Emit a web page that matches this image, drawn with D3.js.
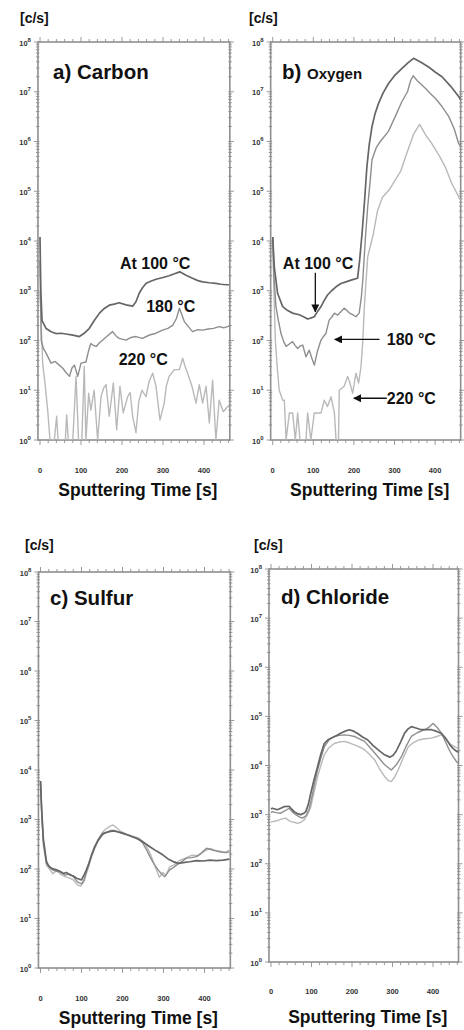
<!DOCTYPE html>
<html>
<head>
<meta charset="utf-8">
<script src="https://cdn.jsdelivr.net/npm/d3@7"></script>
<style>
body{margin:0;background:#fff;}
svg{display:block;font-family:"Liberation Sans",Arial,sans-serif;}
</style>
</head>
<body>
<script>
//wrap everything in a self-executing anonymous function
(function(){

//series data: [sputtering time (s), intensity (c/s)]
var carbon100 = [[0,12000],[2,1000],[5,250],[15,174],[27,150],[39,138],[52,140],[63,135],[80,128],[96,120],[108,140],[120,174],[132,250],[145,355],[157,440],[169,513],[181,540],[193,575],[210,520],[226,490],[234,600],[242,890],[250,1150],[259,1410],[270,1550],[283,1700],[300,1850],[315,2000],[328,2200],[341,2400],[356,2050],[372,1780],[385,1600],[397,1510],[413,1450],[429,1410],[441,1350],[454,1320],[461,1320]];
var carbon180 = [[0,4000],[3,100],[8,70],[15,55],[27,35],[37,38],[47,32],[55,28],[63,23],[72,19],[78,28],[84,32],[92,19],[100,35],[112,37],[118,60],[124,87],[130,80],[137,76],[145,90],[153,102],[165,125],[177,151],[185,125],[193,110],[210,102],[222,115],[234,120],[250,110],[267,129],[283,140],[299,162],[312,175],[324,204],[333,280],[340,447],[346,330],[352,240],[362,190],[372,151],[385,165],[397,162],[410,170],[423,175],[437,190],[448,180],[461,195]];
var carbon220 = [[0,1000],[6.5,35],[13,12],[18.7,4],[24.4,1],[35,1],[40.6,3],[44,1],[61.8,1],[65,3.2],[69,1],[80,1],[87.8,19],[94,1],[102,1],[108,30],[112,1],[118.7,8.7],[124,4],[132,10],[140.6,1],[148.8,7.4],[155,11],[161,13],[169,3],[178.9,14],[187,1.6],[195,12],[203,3.5],[213.8,7.4],[220,9],[226,3],[234,1.4],[241,6],[248.8,10],[258.5,7.4],[266,15],[274.8,22],[283,12],[292.7,2.5],[303,5.5],[308,12],[315,19],[327.6,26],[340,26],[348,44],[354,30],[360,22],[370.7,12],[380.5,5.5],[388.6,13],[396.7,5.5],[405,12],[413,2.2],[421,16],[429,1],[437,6.3],[447,3.7],[457.7,4.7],[461,4.7]];

var oxygen100 = [[0,12000],[4,3000],[12,890],[24.6,480],[37,400],[49,355],[65.6,330],[76,300],[86,270],[95,285],[102.5,300],[110,380],[119,480],[127,640],[135,820],[145,1000],[156,1200],[168,1400],[180.5,1510],[195,1650],[209,1780],[214,4000],[220,14000],[226,60000],[232,310000],[238,900000],[244.6,2.0e6],[252,3.6e6],[261,5.9e6],[272,9.5e6],[285.7,1.48e7],[300,2.1e7],[318.5,2.95e7],[333,3.8e7],[347,4.7e7],[365,3.9e7],[384,3.15e7],[400,2.5e7],[417,2.0e7],[438,1.3e7],[458,8.0e6],[463,7.0e6]];
var oxygen180 = [[0,12000],[3,2000],[8,480],[14,250],[20.5,138],[27,95],[33,76],[41,85],[49,95],[55,80],[61.5,69],[68,78],[74,81],[82,47],[90,64],[96,45],[102.5,32],[110,60],[119,102],[125,120],[131,138],[139,257],[146,300],[152,355],[160,325],[168,380],[176,447],[183,400],[189,355],[197,330],[205,300],[213,355],[218,700],[222,1660],[228,10500],[234,49000],[240,160000],[244.6,430000],[255,750000],[265,1.0e6],[285,1.6e6],[302,3.2e6],[318,6.3e6],[332,1.0e7],[340,1.7e7],[346,2.1e7],[358,1.6e7],[376,1.17e7],[390,8.9e6],[400.5,7.4e6],[415,5.3e6],[433.5,3.2e6],[447,1.8e6],[458,9.1e5],[463,8.0e5]];
var oxygen220 = [[0,12000],[3,1000],[6.5,102],[11,30],[16,10],[24.6,6.3],[28.6,6.3],[33,1],[41,3.5],[49,3.5],[55.7,1],[61.5,3.5],[67.2,1],[82,1],[86,3.5],[94,1],[102.5,3.5],[119,3.5],[127,6.3],[135,4.7],[143.6,7.4],[152,3.5],[156,1],[162,1],[164,10],[176,12],[184.6,19],[190,14],[197,8.7],[205,22],[211.7,14],[217.5,30],[222,100],[225.7,480],[234,4800],[248,14000],[258,40000],[270,75000],[287,107000],[302,170000],[315,250000],[327,490000],[347,1.4e6],[362,2.2e6],[378,1.3e6],[392,9.1e5],[410,5.2e5],[425,3.1e5],[440,1.5e5],[458,7.8e4],[463,6.5e4]];

var sulfur100 = [[0,6000],[3,1500],[7,400],[14.6,141],[20,115],[27,103],[39,96],[47,90],[55,81],[63,85],[71.5,76],[80,72],[88,65],[95,62],[100,60],[106,75],[112,96],[118,130],[124.4,191],[132,280],[140.7,386],[147,460],[153,525],[165,560],[177,590],[190,560],[201.6,525],[218,470],[234,417],[250,350],[266.7,282],[283,230],[299,191],[311,160],[323.6,141],[336,130],[348,135],[364,140],[380.5,148],[397,145],[413,151],[429,148],[445.5,151],[461,158]];
var sulfur180 = [[0,6000],[3,1400],[7,350],[14.6,130],[22,110],[30,95],[39,90],[50,88],[60,75],[70,80],[80,70],[90,55],[100,50],[106,60],[112,90],[118,125],[124,180],[132,270],[140,360],[150,480],[160,550],[172,600],[180,600],[195,540],[210,500],[225,440],[240,400],[250,330],[258,250],[266.7,178],[276,130],[286.8,96],[295,80],[303,70],[315,96],[323,105],[331.7,120],[344,140],[356,166],[368,170],[380.5,178],[392,210],[405,263],[417,245],[429.3,229],[441,220],[453.7,214],[461,225]];
var sulfur220 = [[0,6000],[3,1200],[7,300],[14.6,120],[22,100],[30,80],[39,92],[50,78],[60,70],[70,66],[80,60],[90,48],[98,45],[106,55],[112,80],[118,115],[124,170],[132,260],[140,380],[150,540],[160,650],[168,720],[176,776],[184,700],[195,580],[210,500],[225,460],[240,420],[255,330],[268,200],[280,110],[290,68],[298,85],[306,75],[315,110],[325,120],[340,150],[356,170],[370,190],[385,185],[400,230],[413,260],[425,240],[437,230],[449,215],[461,240]];

var chloride100 = [[0,1300],[3.3,1350],[15.7,1260],[24,1350],[32,1450],[44.7,1480],[57,1150],[65,1050],[73.6,1000],[80,1050],[86,1150],[92,1600],[98.4,2750],[106,5000],[115,9500],[123,17000],[131.5,28000],[140,33000],[148,36000],[160,40000],[173,45700],[183,50000],[193.6,53500],[204,50000],[214,44700],[226,38000],[239,33000],[251,26000],[264,21000],[278,17000],[293,14800],[301,16000],[309,19500],[320,30000],[330,45700],[338,55000],[346.5,62000],[358,58000],[371,53500],[384,54000],[396,53500],[408,50000],[421,44700],[431,36000],[441.7,26300],[450,22000],[458,19500],[463,18500]];
var chloride180 = [[0,1100],[3.3,1150],[12,1100],[24,1070],[35,1200],[44.7,1350],[52,1150],[61,1000],[70,900],[77.8,850],[86,950],[94,1260],[102,2500],[108,4500],[115,8100],[123,14000],[131.5,24000],[143,33000],[156,39000],[168,41000],[181,42000],[193,41000],[206,39000],[218,35000],[231,31000],[247,22000],[264,15100],[280,10500],[297,8100],[310,10500],[322,15100],[334,25000],[346.5,39000],[362,47000],[380,53500],[392,62000],[400,72000],[410,60000],[421,45700],[431,30000],[441.7,19500],[450,15000],[458,12000],[463,11000]];
var chloride220 = [[0,700],[3.3,720],[12,740],[20,780],[28,820],[36.4,850],[42,780],[49,720],[57,700],[65.5,665],[74,700],[82,780],[90,1000],[98.4,1450],[106,2800],[115,5900],[123,10000],[131.5,16500],[143,23000],[156,28000],[168,30000],[181,31000],[193,29000],[206,26300],[218,24000],[231,21000],[243,17000],[256,13000],[268,8500],[281,5900],[289,5000],[297,4700],[305,5800],[314,8100],[326,14000],[339,24000],[351,29000],[363.5,33000],[380,35000],[396.5,36000],[409,39000],[421,42000],[431,36000],[441.7,28000],[450,25000],[458,23000],[463,22000]];

//tick values
var timeTicks = [0, 100, 200, 300, 400];
var decadeExps = [0, 1, 2, 3, 4, 5, 6, 7, 8];

//line colours for 100, 180, 220 °C (dark to light)
var lineColors = ["#666666", "#8e8e8e", "#b9b9b9"];

//labels: [text, time, c/s]  (text placed at that data point)
var carbonLabels = [["At 100 °C", 195, 3550], ["180 °C", 259, 480], ["220 °C", 192, 41]];
var oxygenLabels = [["At 100 °C", 25, 3600], ["180 °C", 281, 105], ["220 °C", 281, 6.9]];
//arrows: [time from, c/s from, time to, c/s to]
var oxygenArrows = [[105, 2300, 105, 380], [263, 105, 153, 105], [281, 6.9, 200, 6.9]];

//panel frames (layout only)
var panels = [
    {letter: "a)", name: "Carbon", nameSize: 20.5, x0: 40, pxs: 0.41, top: 42, bottom: 440,
     series: [carbon100, carbon180, carbon220], labels: carbonLabels, arrows: [],
     unitX: 20, unitY: 23, titleX: 53, titleY: 79, tickY: 473, axisY: 496},
    {letter: "b)", name: "Oxygen", nameSize: 15, x0: 272.7, pxs: 0.406, top: 42, bottom: 440,
     series: [oxygen100, oxygen180, oxygen220], labels: oxygenLabels, arrows: oxygenArrows,
     unitX: 249, unitY: 23, titleX: 282, titleY: 79, tickY: 473, axisY: 496},
    {letter: "c)", name: "Sulfur", nameSize: 20.5, x0: 40.5, pxs: 0.41, top: 572, bottom: 968,
     series: [sulfur100, sulfur180, sulfur220], labels: [], arrows: [],
     unitX: 25, unitY: 550, titleX: 50, titleY: 605, tickY: 1001, axisY: 1024},
    {letter: "d)", name: "Chloride", nameSize: 20.5, x0: 271, pxs: 0.405, top: 569, bottom: 962,
     series: [chloride100, chloride180, chloride220], labels: [], arrows: [],
     unitX: 254, unitY: 550, titleX: 281, titleY: 604, tickY: 994, axisY: 1023}
];

var width = 464, height = 1030;

var svg = d3.select("body")
    .append("svg")
    .attr("width", width)
    .attr("height", height);

//arrowhead marker
svg.append("defs").append("marker")
    .attr("id", "arrowHead")
    .attr("viewBox", "0 0 10 10")
    .attr("refX", 9)
    .attr("refY", 5)
    .attr("markerWidth", 8)
    .attr("markerHeight", 8)
    .attr("markerUnits", "userSpaceOnUse")
    .attr("orient", "auto")
    .append("path")
    .attr("d", "M0,0 L10,5 L0,10 Z")
    .attr("fill", "#111");

panels.forEach(function(p, i){
    drawPanel(p, i);
});

function drawPanel(p, i){
    var xScale = d3.scaleLinear()
        .domain([0, 460])
        .range([p.x0, p.x0 + 460 * p.pxs]);
    var yScale = d3.scaleLog()
        .domain([1, 1e8])
        .range([p.bottom, p.top]);

    var left = xScale(-5), right = xScale(463);
    var g = svg.append("g").attr("class", "panel");

    //clip the curves to the frame
    g.append("clipPath")
        .attr("id", "clip" + i)
        .append("rect")
        .attr("x", left)
        .attr("y", p.top)
        .attr("width", right - left)
        .attr("height", p.bottom - p.top);

    //minor ticks along the time axis (every 20 s)
    var tMinor = d3.range(0, 461, 20);
    [p.top, p.bottom].forEach(function(yy, k){
        var dir = k == 0 ? -1 : 1;
        g.selectAll(".tt" + k)
            .data(tMinor)
            .enter()
            .append("line")
            .attr("x1", function(d){ return xScale(d); })
            .attr("x2", function(d){ return xScale(d); })
            .attr("y1", yy)
            .attr("y2", function(d){ return yy + dir * (d % 100 == 0 ? 5 : 3); })
            .attr("stroke", "#9a9a9a")
            .attr("stroke-width", 1);
    });

    //log ticks on left and right
    var logTicks = [];
    decadeExps.forEach(function(e){
        if (e < 8){
            for (var m = 1; m < 10; m++){ logTicks.push(m * Math.pow(10, e)); }
        } else {
            logTicks.push(Math.pow(10, e));
        }
    });
    [left, right].forEach(function(xx, k){
        var dir = k == 0 ? -1 : 1;
        g.selectAll(".lt" + k)
            .data(logTicks)
            .enter()
            .append("line")
            .attr("x1", function(d){ return xx - dir * 1.5; })
            .attr("x2", function(d){
                var major = Math.abs(Math.log10(d) - Math.round(Math.log10(d))) < 1e-9;
                return xx + dir * (major ? 4 : 2);
            })
            .attr("y1", function(d){ return yScale(d); })
            .attr("y2", function(d){ return yScale(d); })
            .attr("stroke", "#9a9a9a")
            .attr("stroke-width", 1);
    });

    //frame
    g.append("rect")
        .attr("x", left)
        .attr("y", p.top)
        .attr("width", right - left)
        .attr("height", p.bottom - p.top)
        .attr("fill", "none")
        .attr("stroke", "#8f8f8f")
        .attr("stroke-width", 1.6);

    //y tick labels 10^n
    var yLabels = g.selectAll(".ylab")
        .data(decadeExps)
        .enter()
        .append("text")
        .attr("x", left - 7)
        .attr("y", function(d){ return yScale(Math.pow(10, d)) + 3.5; })
        .attr("text-anchor", "end")
        .attr("font-size", 7.5)
        .attr("font-weight", "bold")
        .attr("fill", "#333");
    yLabels.append("tspan").text("10");
    yLabels.append("tspan")
        .attr("dy", -4)
        .attr("font-size", 6)
        .text(function(d){ return d; });

    //x tick labels
    g.selectAll(".xlab")
        .data(timeTicks)
        .enter()
        .append("text")
        .attr("x", function(d){ return xScale(d); })
        .attr("y", p.tickY)
        .attr("text-anchor", "middle")
        .attr("font-size", 7.5)
        .attr("font-weight", "bold")
        .attr("fill", "#333")
        .text(function(d){ return d; });

    //curves, light first so the dark one sits on top
    var line = d3.line()
        .x(function(d){ return xScale(d[0]); })
        .y(function(d){ return yScale(Math.max(d[1], 1)); });
    var curves = g.append("g").attr("clip-path", "url(#clip" + i + ")");
    for (var s = p.series.length - 1; s >= 0; s--){
        curves.append("path")
            .datum(p.series[s])
            .attr("d", line)
            .attr("fill", "none")
            .attr("stroke", lineColors[s])
            .attr("stroke-width", s == 0 ? 1.7 : 1.4)
            .attr("stroke-linejoin", "round");
    }

    //temperature labels
    g.selectAll(".tlab")
        .data(p.labels)
        .enter()
        .append("text")
        .attr("x", function(d){ return xScale(d[1]); })
        .attr("y", function(d){ return yScale(d[2]) + 5.5; })
        .attr("font-size", 16)
        .attr("font-weight", "bold")
        .attr("fill", "#111")
        .text(function(d){ return d[0]; });

    //arrows
    g.selectAll(".arr")
        .data(p.arrows)
        .enter()
        .append("line")
        .attr("x1", function(d){ return xScale(d[0]); })
        .attr("y1", function(d){ return yScale(d[1]); })
        .attr("x2", function(d){ return xScale(d[2]); })
        .attr("y2", function(d){ return yScale(d[3]); })
        .attr("stroke", "#111")
        .attr("stroke-width", 1.3)
        .attr("marker-end", "url(#arrowHead)");

    //unit label
    g.append("text")
        .attr("x", p.unitX)
        .attr("y", p.unitY)
        .attr("font-size", 14)
        .attr("font-weight", "bold")
        .attr("fill", "#111")
        .text("[c/s]");

    //panel title
    var title = g.append("text")
        .attr("x", p.titleX)
        .attr("y", p.titleY)
        .attr("font-size", 20.5)
        .attr("font-weight", "bold")
        .attr("fill", "#111");
    title.append("tspan").text(p.letter + " ");
    title.append("tspan")
        .attr("font-size", p.nameSize)
        .text(p.name);

    //time axis title
    g.append("text")
        .attr("x", (left + right) / 2 + 4)
        .attr("y", p.axisY)
        .attr("text-anchor", "middle")
        .attr("font-size", 17.5)
        .attr("font-weight", "bold")
        .attr("fill", "#111")
        .text("Sputtering Time [s]");
};

})();
</script>
</body>
</html>
